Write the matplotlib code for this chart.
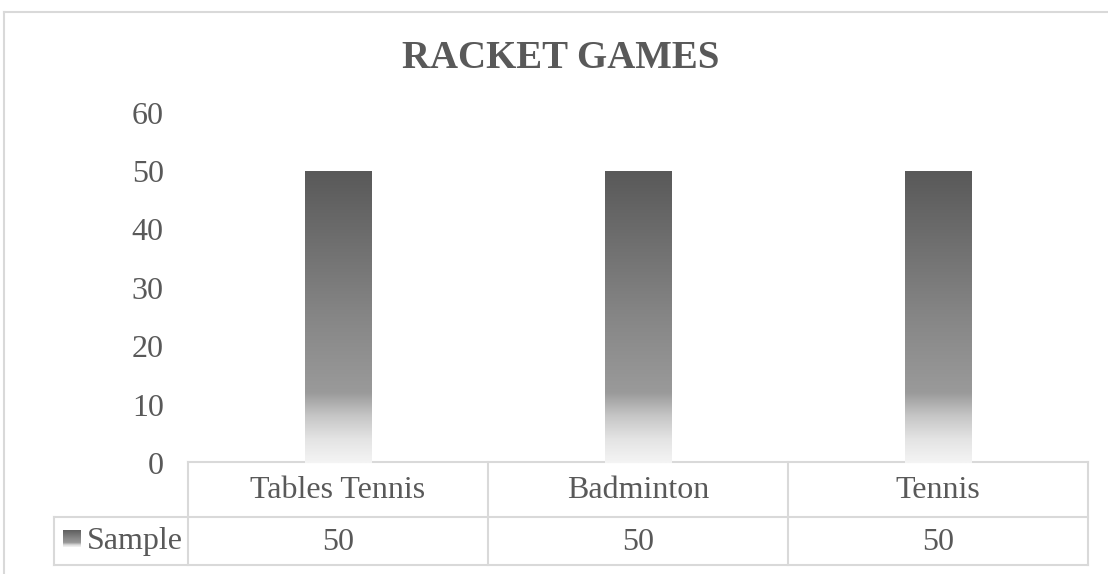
import matplotlib
matplotlib.use("Agg")
import matplotlib.pyplot as plt
import numpy as np
from matplotlib.colors import LinearSegmentedColormap
from matplotlib.transforms import blended_transform_factory

title = "RACKET GAMES"
categories = ["Tables Tennis", "Badminton", "Tennis"]
series_name = "Sample"
values = [50, 50, 50]
yticks = [0, 10, 20, 30, 40, 50, 60]

W, H = 1108, 574
fig = plt.figure(figsize=(W / 100, H / 100), dpi=100)
plt.rcParams['font.family'] = ['Liberation Serif', 'DejaVu Serif']
txt = '#595959'
edge = '#d9d9d9'

def fx(px):
    return px / W

def fy(py):
    return 1 - py / H

ax = fig.add_axes([fx(188), fy(463), fx(1088) - fx(188), fy(112.6) - fy(463)])
ax.set_xlim(-0.5, len(categories) - 0.5)
ax.set_ylim(0, 60)
for s in ax.spines.values():
    s.set_visible(False)
ax.set_xticks([])
ax.set_yticks(yticks)
ax.set_yticklabels([str(t) for t in yticks], fontsize=23, color=txt)
ax.tick_params(axis='y', length=0, pad=17.5)

cmap = LinearSegmentedColormap.from_list('g', [
    (0.0, '#f4f4f4'), (0.08, '#e4e4e4'), (0.16, '#c6c6c6'),
    (0.24, '#9a9a9a'), (0.5, '#868686'), (1.0, '#595959')])
grad = np.linspace(0, 1, 256).reshape(-1, 1)

bars = ax.bar(np.arange(len(categories)), values, width=0.223,
              color='none', edgecolor='none')
for b in bars:
    x0, y0 = b.get_x(), b.get_y()
    w, h = b.get_width(), b.get_height()
    im = ax.imshow(grad, cmap=cmap, origin='lower', aspect='auto',
                   extent=[x0, x0 + w, y0, y0 + h], zorder=2)
    im.set_clip_path(b)
ax.set_xlim(-0.5, len(categories) - 0.5)
ax.set_ylim(0, 60)

# data table under the axis
tr = blended_transform_factory(ax.transData, fig.transFigure)
y_top, y_mid, y_bot = fy(462), fy(517), fy(565)
lw = 1.5
xs = [-0.5 + i for i in range(len(categories) + 1)]
x_left = ax.transData.inverted().transform((54, 0))[0]
kw = dict(color=edge, lw=lw, transform=tr, clip_on=False, zorder=1)
ax.plot([xs[0], xs[-1]], [y_top, y_top], **kw)
ax.plot([x_left, xs[-1]], [y_mid, y_mid], **kw)
ax.plot([x_left, xs[-1]], [y_bot, y_bot], **kw)
for x in xs:
    ax.plot([x, x], [y_top, y_bot], **kw)
ax.plot([x_left, x_left], [y_mid, y_bot], **kw)

row1_y = fy(491)
row2_y = fy(542)
for i, c in enumerate(categories):
    ax.text(i, row1_y, c, transform=tr, ha='center', va='center',
            fontsize=23, color=txt)
    ax.text(i, row2_y, str(values[i]), transform=tr, ha='center',
            va='center', fontsize=23, color=txt)

# legend key in row header
kax = fig.add_axes([fx(63), fy(547), fx(81) - fx(63), fy(530) - fy(547)])
kax.imshow(grad, cmap=cmap, origin='lower', aspect='auto')
kax.axis('off')
fig.text(fx(87), row2_y, series_name, ha='left', va='center',
         fontsize=23, color=txt)

fig.text(fx(561), fy(59), title, ha='center', va='center', fontsize=28,
         fontweight='bold', color=txt)

# chart area border (partially visible)
fig.add_artist(plt.Line2D([fx(4), fx(4)], [fy(12), 0], color=edge, lw=1.5))
fig.add_artist(plt.Line2D([fx(4), 1], [fy(12), fy(12)], color=edge, lw=1.5))

fig.savefig('out.png', dpi=100, facecolor='white')
